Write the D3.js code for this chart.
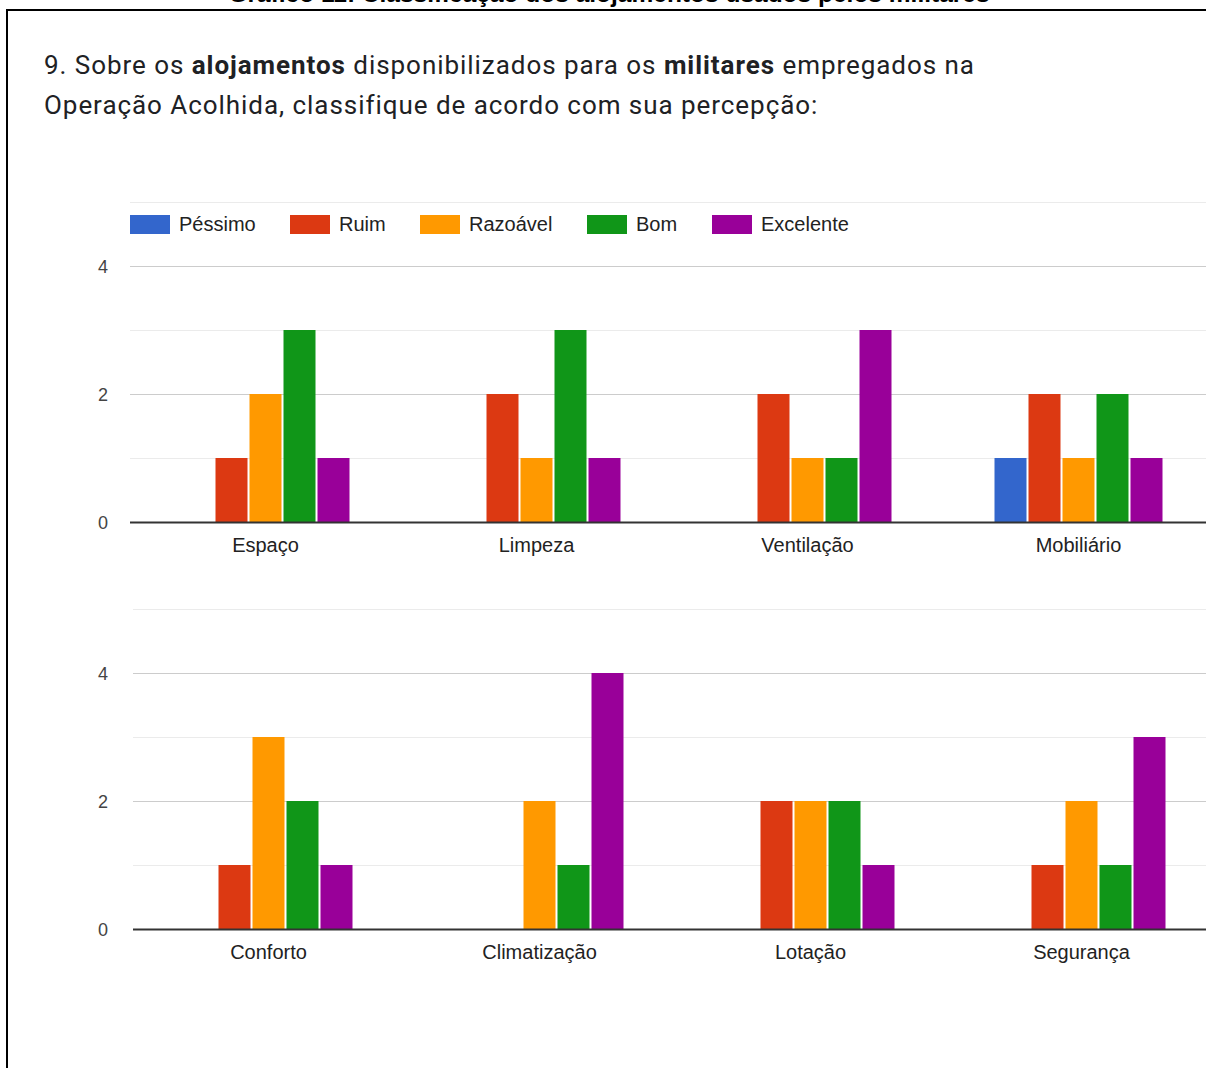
<!DOCTYPE html>
<html lang="pt">
<head>
<meta charset="utf-8">
<title>Alojamentos</title>
<script src="https://cdnjs.cloudflare.com/ajax/libs/d3/7.8.5/d3.min.js"></script>
<style>
  body { margin: 0; background: #fff; }
  svg { display: block; }
</style>
</head>
<body>
<svg id="chart" width="1206" height="1068"></svg>
<script>
// series (legend order) and colours
var series = ["Péssimo", "Ruim", "Razoável", "Bom", "Excelente"];
var colors = ["#3366cc", "#dc3912", "#ff9900", "#109618", "#990099"];

// first chart
var catsTop = ["Espaço", "Limpeza", "Ventilação", "Mobiliário"];
var valsTop = [
  [0, 1, 2, 3, 1],   // Espaço
  [0, 2, 1, 3, 1],   // Limpeza
  [0, 2, 1, 1, 3],   // Ventilação
  [1, 2, 1, 2, 1]    // Mobiliário
];

// second chart
var catsBottom = ["Conforto", "Climatização", "Lotação", "Segurança"];
var valsBottom = [
  [0, 1, 3, 2, 1],   // Conforto
  [0, 0, 2, 1, 4],   // Climatização
  [0, 2, 2, 2, 1],   // Lotação
  [0, 1, 2, 1, 3]    // Segurança
];

var yTicks = [0, 2, 4];
var yMinor = [1, 3, 5];

var svg = d3.select("#chart");

// caption cut off at the top of the page
svg.append("text")
  .attr("x", 609).attr("y", 2)
  .attr("text-anchor", "middle")
  .style("font-family", "Liberation Sans, Arial, sans-serif")
  .style("font-weight", "bold")
  .style("font-size", "24.5px")
  .attr("fill", "#000")
  .text("Gráfico 11: Classificação dos alojamentos usados pelos militares");

// frame
svg.append("path")
  .attr("d", "M7,1068 V10 H1206")
  .attr("fill", "none")
  .attr("stroke", "#000")
  .attr("stroke-width", 2);

// question title
var title = svg.append("text")
  .style("font-family", "Roboto, sans-serif")
  .style("font-size", "26px")
  .style("letter-spacing", "0.95px")
  .attr("fill", "#202124");
var l1 = title.append("tspan").attr("x", 44).attr("y", 74);
l1.append("tspan").text("9. Sobre os ");
l1.append("tspan").style("font-weight", "bold").text("alojamentos");
l1.append("tspan").text(" disponibilizados para os ");
l1.append("tspan").style("font-weight", "bold").text("militares");
l1.append("tspan").text(" empregados na");
title.append("tspan").attr("x", 44).attr("y", 114)
  .text("Operação Acolhida, classifique de acordo com sua percepção:");

function drawChart(cats, vals, left, zeroY, showLegend) {
  var g = svg.append("g");
  var x0 = d3.scaleBand().domain(cats).range([left, left + 4 * 271]);
  var y = d3.scaleLinear().domain([0, 5]).range([zeroY, zeroY - 5 * 64]);
  var x1 = d3.scaleBand().domain(series).range([-84, 84]).paddingInner(2 / 34);

  // minor gridlines
  g.selectAll(".minor").data(yMinor).enter().append("line")
    .attr("x1", left).attr("x2", 1206)
    .attr("y1", function(d) { return y(d) + 0.5; })
    .attr("y2", function(d) { return y(d) + 0.5; })
    .attr("stroke", "#ebebeb");

  // major gridlines + labels
  g.selectAll(".major").data(yTicks.filter(function(d) { return d > 0; })).enter().append("line")
    .attr("x1", left).attr("x2", 1206)
    .attr("y1", function(d) { return y(d) + 0.5; })
    .attr("y2", function(d) { return y(d) + 0.5; })
    .attr("stroke", "#cccccc");

  g.selectAll(".ylab").data(yTicks).enter().append("text")
    .attr("x", 108)
    .attr("y", function(d) { return y(d) + 7; })
    .attr("text-anchor", "end")
    .style("font-family", "Liberation Sans, Arial, sans-serif")
    .style("font-size", "18px")
    .attr("fill", "#444")
    .text(function(d) { return d; });

  // bars
  var groups = g.selectAll(".grp").data(cats).enter().append("g")
    .attr("transform", function(d) { return "translate(" + (x0(d) + x0.bandwidth() / 2) + ",0)"; });

  groups.selectAll("rect")
    .data(function(d, i) { return vals[i].map(function(v, j) { return { s: series[j], v: v, c: colors[j] }; }); })
    .enter().append("rect")
    .attr("x", function(d) { return x1(d.s); })
    .attr("width", x1.bandwidth())
    .attr("y", function(d) { return y(d.v); })
    .attr("height", function(d) { return zeroY - y(d.v); })
    .attr("fill", function(d) { return d.c; });

  // baseline
  g.append("line")
    .attr("x1", left).attr("x2", 1206)
    .attr("y1", zeroY + 0.5).attr("y2", zeroY + 0.5)
    .attr("stroke", "#333").attr("stroke-width", 2);

  // category labels
  groups.append("text")
    .attr("y", zeroY + 30)
    .attr("text-anchor", "middle")
    .style("font-family", "Liberation Sans, Arial, sans-serif")
    .style("font-size", "20px")
    .attr("fill", "#222")
    .text(function(d) { return d; });

  if (showLegend) {
    var legX = [130, 290, 420, 587, 712];
    var leg = g.selectAll(".leg").data(series).enter().append("g")
      .attr("transform", function(d, i) { return "translate(" + legX[i] + "," + (y(5) + 13) + ")"; });
    leg.append("rect")
      .attr("width", 40).attr("height", 19)
      .attr("fill", function(d, i) { return colors[i]; });
    leg.append("text")
      .attr("x", 49).attr("y", 16)
      .style("font-family", "Liberation Sans, Arial, sans-serif")
      .style("font-size", "20px")
      .attr("fill", "#222")
      .text(function(d) { return d; });
  }
}

drawChart(catsTop, valsTop, 130, 522, true);
drawChart(catsBottom, valsBottom, 133, 929, false);
</script>
</body>
</html>
